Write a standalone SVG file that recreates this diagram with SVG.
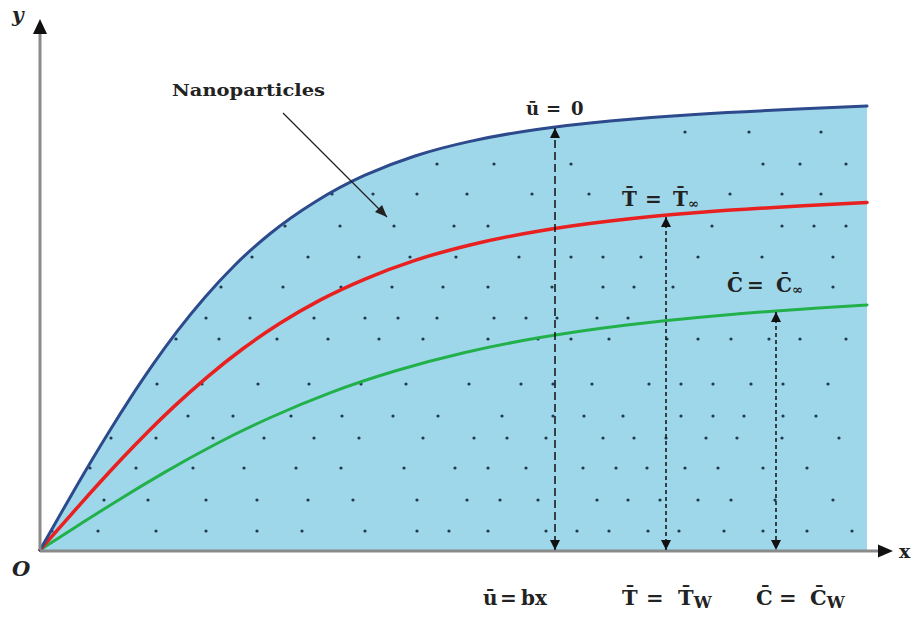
<svg xmlns="http://www.w3.org/2000/svg" width="914" height="618" viewBox="0 0 914 618">
<style>
.lab{font-family:"DejaVu Serif","Liberation Serif",serif;font-weight:bold;fill:#222}
.axis{stroke:#8a8a8a;stroke-width:3;fill:none}
.dash1{stroke:#111;stroke-width:1.5;stroke-dasharray:8 4;fill:none}
.dash2{stroke:#111;stroke-width:1.5;stroke-dasharray:4 3;fill:none}
.dot{fill:#1e3a4c}
.crv{fill:none;stroke-linejoin:round;stroke-linecap:round}
</style>
<defs>
<marker id="tri" viewBox="0 0 10 10" refX="10" refY="5" markerUnits="userSpaceOnUse" markerWidth="10" markerHeight="11" orient="auto-start-reverse">
<path d="M0,0 L10,5 L0,10 z" fill="#111"/>
</marker>
<marker id="thin" viewBox="0 0 12 10" refX="12" refY="5" markerUnits="userSpaceOnUse" markerWidth="13" markerHeight="10" orient="auto">
<path d="M0,0 L12,5 L0,10 z" fill="#222"/>
</marker>
</defs>

<g id="region">
<path d="M40,550 L45,541.2 Q50,532.4 55,523.65 Q60,514.9 65,506.2 Q70,497.5 77.5,484.6 Q85,471.7 92.5,459.05 Q100,446.4 110,430.2 Q120,414 130,398.6 Q140,383.2 152.5,365.2 Q165,347.2 177.5,330.9 Q190,314.6 205,297.25 Q220,279.9 235,264.95 Q250,250 270,233.75 Q290,217.5 315,201.95 Q340,186.4 365,175.2 Q390,164 415,155.95 Q440,147.9 470,141.35 Q500,134.8 535,129.7 Q570,124.6 610,120.9 Q650,117.2 695,114.4 Q740,111.6 803.5,108.85 L867,106.1 L867,550 Z" fill="#9fd7ea"/>
</g>

<g id="dots" class="dot">
<g transform="translate(0,132)"><circle cx="685" r="1.6"/><circle cx="749" r="1.6"/><circle cx="821" r="1.6"/></g>
<g transform="translate(0,164)"><circle cx="437" r="1.6"/><circle cx="494" r="1.6"/><circle cx="571" r="1.6"/><circle cx="763" r="1.6"/><circle cx="800" r="1.6"/><circle cx="846" r="1.6"/></g>
<g transform="translate(0,194)"><circle cx="332" r="1.6"/><circle cx="373" r="1.6"/><circle cx="417" r="1.6"/><circle cx="467" r="1.6"/><circle cx="532" r="1.6"/><circle cx="589" r="1.6"/><circle cx="730" r="1.6"/><circle cx="782" r="1.6"/><circle cx="821" r="1.6"/></g>
<g transform="translate(0,226)"><circle cx="285" r="1.6"/><circle cx="340" r="1.6"/><circle cx="394" r="1.6"/><circle cx="454" r="1.6"/><circle cx="488" r="1.6"/><circle cx="712" r="1.6"/><circle cx="782" r="1.6"/><circle cx="814" r="1.6"/><circle cx="846" r="1.6"/></g>
<g transform="translate(0,257)"><circle cx="252" r="1.6"/><circle cx="308" r="1.6"/><circle cx="359" r="1.6"/><circle cx="410" r="1.6"/><circle cx="456" r="1.6"/><circle cx="519" r="1.6"/><circle cx="571" r="1.6"/><circle cx="603" r="1.6"/><circle cx="641" r="1.6"/><circle cx="698" r="1.6"/><circle cx="762" r="1.6"/><circle cx="833" r="1.6"/></g>
<g transform="translate(0,287)"><circle cx="221" r="1.6"/><circle cx="283" r="1.6"/><circle cx="341" r="1.6"/><circle cx="392" r="1.6"/><circle cx="443" r="1.6"/><circle cx="488" r="1.6"/><circle cx="552" r="1.6"/><circle cx="603" r="1.6"/><circle cx="634" r="1.6"/><circle cx="673" r="1.6"/><circle cx="833" r="1.6"/></g>
<g transform="translate(0,318)"><circle cx="206" r="1.6"/><circle cx="250" r="1.6"/><circle cx="314" r="1.6"/><circle cx="365" r="1.6"/><circle cx="398" r="1.6"/><circle cx="437" r="1.6"/><circle cx="494" r="1.6"/><circle cx="526" r="1.6"/><circle cx="557" r="1.6"/><circle cx="597" r="1.6"/><circle cx="628" r="1.6"/></g>
<g transform="translate(0,339)"><circle cx="176" r="1.6"/><circle cx="219" r="1.6"/><circle cx="277" r="1.6"/><circle cx="328" r="1.6"/><circle cx="379" r="1.6"/><circle cx="423" r="1.6"/><circle cx="488" r="1.6"/><circle cx="538" r="1.6"/><circle cx="571" r="1.6"/><circle cx="609" r="1.6"/><circle cx="667" r="1.6"/><circle cx="698" r="1.6"/><circle cx="731" r="1.6"/><circle cx="769" r="1.6"/><circle cx="800" r="1.6"/><circle cx="846" r="1.6"/></g>
<g transform="translate(0,384)"><circle cx="157" r="1.6"/><circle cx="202" r="1.6"/><circle cx="258" r="1.6"/><circle cx="309" r="1.6"/><circle cx="361" r="1.6"/><circle cx="406" r="1.6"/><circle cx="469" r="1.6"/><circle cx="521" r="1.6"/><circle cx="553" r="1.6"/><circle cx="592" r="1.6"/><circle cx="649" r="1.6"/><circle cx="681" r="1.6"/><circle cx="713" r="1.6"/><circle cx="751" r="1.6"/><circle cx="783" r="1.6"/><circle cx="828" r="1.6"/></g>
<g transform="translate(0,416)"><circle cx="188" r="1.6"/><circle cx="233" r="1.6"/><circle cx="291" r="1.6"/><circle cx="342" r="1.6"/><circle cx="393" r="1.6"/><circle cx="438" r="1.6"/><circle cx="502" r="1.6"/><circle cx="553" r="1.6"/><circle cx="584" r="1.6"/><circle cx="623" r="1.6"/><circle cx="681" r="1.6"/><circle cx="713" r="1.6"/><circle cx="744" r="1.6"/><circle cx="783" r="1.6"/><circle cx="816" r="1.6"/></g>
<g transform="translate(0,438)"><circle cx="111" r="1.6"/><circle cx="156" r="1.6"/><circle cx="213" r="1.6"/><circle cx="264" r="1.6"/><circle cx="314" r="1.6"/><circle cx="359" r="1.6"/><circle cx="423" r="1.6"/><circle cx="474" r="1.6"/><circle cx="507" r="1.6"/><circle cx="546" r="1.6"/><circle cx="603" r="1.6"/><circle cx="634" r="1.6"/><circle cx="666" r="1.6"/><circle cx="706" r="1.6"/><circle cx="737" r="1.6"/><circle cx="782" r="1.6"/><circle cx="839" r="1.6"/></g>
<g transform="translate(0,468)"><circle cx="90" r="1.6"/><circle cx="136" r="1.6"/><circle cx="193" r="1.6"/><circle cx="244" r="1.6"/><circle cx="296" r="1.6"/><circle cx="341" r="1.6"/><circle cx="404" r="1.6"/><circle cx="455" r="1.6"/><circle cx="488" r="1.6"/><circle cx="526" r="1.6"/><circle cx="583" r="1.6"/><circle cx="616" r="1.6"/><circle cx="647" r="1.6"/><circle cx="685" r="1.6"/><circle cx="718" r="1.6"/><circle cx="763" r="1.6"/><circle cx="807" r="1.6"/></g>
<g transform="translate(0,500)"><circle cx="104" r="1.6"/><circle cx="148" r="1.6"/><circle cx="206" r="1.6"/><circle cx="257" r="1.6"/><circle cx="308" r="1.6"/><circle cx="353" r="1.6"/><circle cx="417" r="1.6"/><circle cx="467" r="1.6"/><circle cx="500" r="1.6"/><circle cx="538" r="1.6"/><circle cx="597" r="1.6"/><circle cx="628" r="1.6"/><circle cx="660" r="1.6"/><circle cx="698" r="1.6"/><circle cx="731" r="1.6"/><circle cx="775" r="1.6"/><circle cx="833" r="1.6"/></g>
<g transform="translate(0,531)"><circle cx="52" r="1.6"/><circle cx="98" r="1.6"/><circle cx="156" r="1.6"/><circle cx="206" r="1.6"/><circle cx="257" r="1.6"/><circle cx="302" r="1.6"/><circle cx="365" r="1.6"/><circle cx="417" r="1.6"/><circle cx="449" r="1.6"/><circle cx="488" r="1.6"/><circle cx="546" r="1.6"/><circle cx="577" r="1.6"/><circle cx="609" r="1.6"/><circle cx="648" r="1.6"/><circle cx="679" r="1.6"/><circle cx="724" r="1.6"/><circle cx="763" r="1.6"/><circle cx="807" r="1.6"/><circle cx="852" r="1.6"/></g>
</g>

<g id="curves">
<path id="green" class="crv" stroke="#22b04b" stroke-width="3" d="M40,550 L50,543.5 Q60,537 75,527.4 Q90,517.8 115,502.2 Q140,486.6 165,472.1 Q190,457.6 215,444.5 Q240,431.4 270,417.75 Q300,404.1 330,392.8 Q360,381.5 395,371 Q430,360.5 465,352.45 Q500,344.4 540,337.55 Q580,330.7 625,325.2 Q670,319.7 720,315.4 Q770,311.1 818.5,308 L867,304.9"/>
<path id="red" class="crv" stroke="#e8201f" stroke-width="3.5" d="M40,550 L47.5,541.4 Q55,532.8 62.5,524.3 Q70,515.8 80,504.55 Q90,493.3 100,482.3 Q110,471.3 122.5,458.05 Q135,444.8 147.5,432.25 Q160,419.7 175,405.65 Q190,391.6 207.5,376.8 Q225,362 242.5,349 Q260,336 280,323.3 Q300,310.6 320,300.1 Q340,289.6 365,279.05 Q390,268.5 415,260.35 Q440,252.2 470,244.95 Q500,237.7 535,231.75 Q570,225.8 610,221.1 Q650,216.4 695,212.85 Q740,209.3 803.5,205.85 L867,202.4"/>
<path id="blue" class="crv" stroke="#2c4a8c" stroke-width="3" d="M40,550 L45,541.2 Q50,532.4 55,523.65 Q60,514.9 65,506.2 Q70,497.5 77.5,484.6 Q85,471.7 92.5,459.05 Q100,446.4 110,430.2 Q120,414 130,398.6 Q140,383.2 152.5,365.2 Q165,347.2 177.5,330.9 Q190,314.6 205,297.25 Q220,279.9 235,264.95 Q250,250 270,233.75 Q290,217.5 315,201.95 Q340,186.4 365,175.2 Q390,164 415,155.95 Q440,147.9 470,141.35 Q500,134.8 535,129.7 Q570,124.6 610,120.9 Q650,117.2 695,114.4 Q740,111.6 803.5,108.85 L867,106.1"/>
</g>

<g id="axes">
<line class="axis" x1="40" y1="550" x2="40" y2="32"/>
<polygon points="40,19 33,34 47,34" fill="#111"/>
<line class="axis" x1="40" y1="551" x2="880" y2="551"/>
<polygon points="893,551 878,544.5 878,557.5" fill="#111"/>
<text class="lab" x="12" y="22" font-size="20" font-style="italic">y</text>
<text class="lab" x="899" y="558" font-size="19">x</text>
<text class="lab" x="12" y="576" font-size="21" font-style="italic">O</text>
</g>

<g id="connectors">
<line class="dash1" x1="555" y1="128" x2="555" y2="550" marker-start="url(#tri)" marker-end="url(#tri)"/>
<line class="dash2" x1="666" y1="217" x2="666" y2="550" marker-start="url(#tri)" marker-end="url(#tri)"/>
<line class="dash2" x1="776" y1="312" x2="776" y2="550" marker-start="url(#tri)" marker-end="url(#tri)"/>
<line x1="283" y1="113" x2="387" y2="217" stroke="#222" stroke-width="1.3" marker-end="url(#thin)"/>
</g>

<g id="labels">
<text class="lab" x="172" y="96" font-size="17" textLength="153" lengthAdjust="spacingAndGlyphs">Nanoparticles</text>
<text class="lab" font-size="18" y="115"><tspan x="526">ū</tspan><tspan x="546">=</tspan><tspan x="571">0</tspan></text>
<text class="lab" font-size="20" y="206"><tspan x="622">T̄</tspan><tspan x="645">=</tspan><tspan x="673">T̄</tspan><tspan font-size="13" dy="2">∞</tspan></text>
<text class="lab" font-size="20" y="292"><tspan x="727">C̄</tspan><tspan x="747">=</tspan><tspan x="776">C̄</tspan><tspan font-size="13" dy="2">∞</tspan></text>
<text class="lab" font-size="20" y="605"><tspan x="483">ū</tspan><tspan x="500">=</tspan><tspan x="521">bx</tspan></text>
<text class="lab" font-size="21" y="605"><tspan x="622">T̄</tspan><tspan x="646">=</tspan><tspan x="678">T̄</tspan><tspan font-size="16" dy="3">W</tspan></text>
<text class="lab" font-size="21" y="605"><tspan x="756">C̄</tspan><tspan x="779">=</tspan><tspan x="810">C̄</tspan><tspan font-size="16" dy="3">W</tspan></text>
</g>
</svg>
